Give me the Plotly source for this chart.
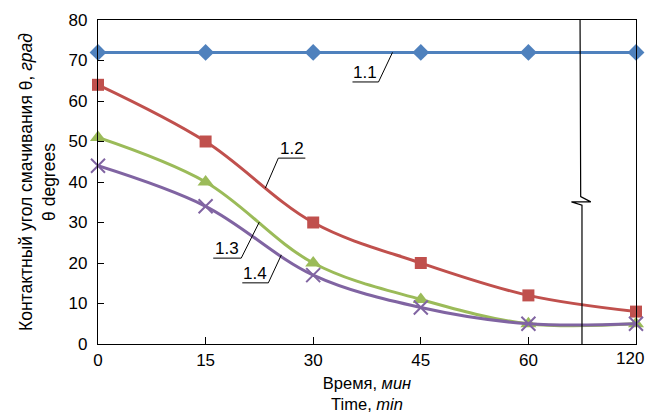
import plotly.graph_objects as go

# Time points (categories, evenly spaced on the axis)
time_labels = ["0", "15", "30", "45", "60", "120"]
x_pos = list(range(len(time_labels)))

# Contact angle, degrees
s11 = [72, 72, 72, 72, 72, 72]
s12 = [64, 50, 30, 20, 12, 8]
s13 = [51, 40, 20, 11, 5, 5]
s14 = [44, 34, 17, 9, 5, 5]

series_names = ["1.1", "1.2", "1.3", "1.4"]
colors = ["#4F81BD", "#C0504D", "#9BBB59", "#8064A2"]
symbols = ["diamond", "square", "triangle-up", "x-thin"]
sizes = [13, 12, 14, 14]

FONT = "Liberation Sans, Arial, sans-serif"

fig = go.Figure()
for name, ys, c, sym, sz in zip(series_names, [s11, s12, s13, s14], colors, symbols, sizes):
    marker = dict(symbol=sym, size=sz, color=c)
    if sym == "x-thin":
        marker["line"] = dict(color=c, width=2)
    fig.add_trace(go.Scatter(
        x=x_pos, y=ys, name=name, mode="lines+markers",
        line=dict(color=c, width=3, shape="spline", smoothing=1.0),
        marker=marker, cliponaxis=False, showlegend=False,
    ))

shapes = []
# axis break marker between 60 and 120
shapes.append(dict(
    type="path", xref="x", yref="y",
    path="M 4.48 80 L 4.486 36.4 L 4.58 35.1 L 4.40 35.1 L 4.498 34.3 L 4.498 0",
    line=dict(color="black", width=1.2),
))

# series labels with leader lines: (label, underline x0, x1, y, leader start x, y, leader end x, y)
labels = [
    ("1.1", 2.365, 2.607, 64.7, 2.607, 64.7, 2.737, 72.0),
    ("1.2", 1.676, 1.927, 45.9, 1.676, 45.9, 1.555, 38.5),
    ("1.3", 1.071, 1.331, 21.2, 1.331, 21.2, 1.499, 30.1),
    ("1.4", 1.341, 1.583, 15.1, 1.583, 15.1, 1.704, 22.0),
]
annotations = []
for txt, ux0, ux1, uy, lx0, ly0, lx1, ly1 in labels:
    shapes.append(dict(type="line", xref="x", yref="y", x0=ux0, x1=ux1, y0=uy, y1=uy,
                       line=dict(color="black", width=1)))
    shapes.append(dict(type="line", xref="x", yref="y", x0=lx0, x1=lx1, y0=ly0, y1=ly1,
                       line=dict(color="black", width=1)))
    annotations.append(dict(x=(ux0 + ux1) / 2, y=uy, xref="x", yref="y", text=txt,
                            showarrow=False, xanchor="center", yanchor="bottom", yshift=-2,
                            font=dict(family=FONT, size=17, color="black")))

# last category label sits at the right edge, so it is nudged inward
tick_text = time_labels[:-1] + [""]
annotations.append(dict(x=x_pos[-1], y=0, xref="x", yref="y", text=time_labels[-1],
                        showarrow=False, xanchor="right", yanchor="top",
                        xshift=10, yshift=-3, font=dict(family=FONT, size=17, color="black")))

fig.update_layout(
    width=648, height=414,
    margin=dict(l=98, r=12, t=20, b=70),
    paper_bgcolor="white", plot_bgcolor="white",
    font=dict(family=FONT, size=17, color="black"),
    shapes=shapes, annotations=annotations,
    xaxis=dict(
        range=[0, 5], tickmode="array", tickvals=x_pos, ticktext=tick_text,
        showgrid=False, zeroline=False, showline=True, linecolor="black", linewidth=1.2,
        mirror=True, ticks="inside", ticklen=7, tickcolor="black",
        automargin=False,
        title=dict(text="Время, <i>мин</i><br>Time, <i>min</i>", standoff=8,
                   font=dict(family=FONT, size=16.5)),
    ),
    yaxis=dict(
        range=[0, 80], tickvals=[0, 10, 20, 30, 40, 50, 60, 70, 80],
        showgrid=False, zeroline=False, showline=True, linecolor="black", linewidth=1.2,
        mirror=True, ticks="inside", ticklen=6, tickcolor="black",
        ticklabelstandoff=6, automargin=False,
        title=dict(text="Контактный угол смачивания θ, <i>град</i><br>θ degrees", standoff=8,
                   font=dict(family=FONT, size=17.5)),
    ),
)

fig.write_html("out.html")
